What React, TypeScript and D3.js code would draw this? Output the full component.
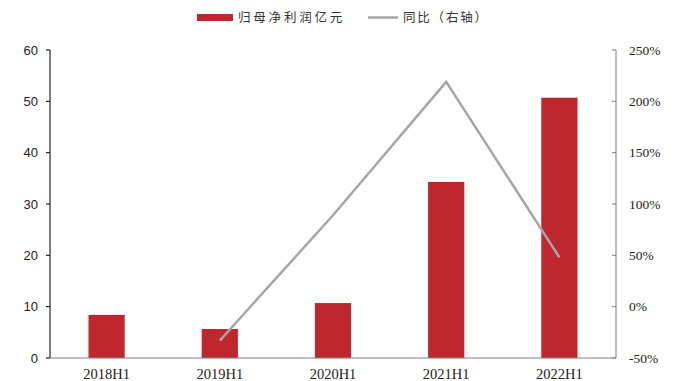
import React from "react";
import * as d3 from "d3";

const categories = ["2018H1", "2019H1", "2020H1", "2021H1", "2022H1"];
const profit = [8.4, 5.65, 10.7, 34.3, 50.7];
const yoy: (number | null)[] = [null, -33, 89, 219, 48];
const leftTicks = [0, 10, 20, 30, 40, 50, 60];
const rightTicks = [-50, 0, 50, 100, 150, 200, 250];

const W = 678, H = 381;
const L = 50, R = 616, T = 50, B = 358;

export default function App() {
  const x = d3.scaleBand<string>().domain(categories).range([L, R]).paddingInner(0.68).paddingOuter(0.34);
  const yL = d3.scaleLinear().domain([0, 60]).range([B, T]);
  const yR = d3.scaleLinear().domain([-50, 250]).range([B, T]);
  const pts = categories
    .map((c, i) => ({ c, v: yoy[i] }))
    .filter((d) => d.v !== null) as { c: string; v: number }[];
  const line = d3
    .line<{ c: string; v: number }>()
    .x((d) => (x(d.c) as number) + x.bandwidth() / 2)
    .y((d) => yR(d.v));
  return (
    <svg width={W} height={H} style={{ position: "absolute", left: 0, top: 0 }}>
      <rect width={W} height={H} fill="#fff" />
      {/* legend */}
      <rect x={197} y={14} width={36} height={7} fill="#C0262E" />
      <text x={238} y={22} fontSize={12.5} letterSpacing={2.8} fontFamily="Noto Sans CJK SC" fill="#333">归母净利润亿元</text>
      <line x1={368} x2={398} y1={17.5} y2={17.5} stroke="#A6A6A6" strokeWidth={2.5} />
      <text x={403} y={22} fontSize={12.5} letterSpacing={1.8} fontFamily="Noto Sans CJK SC" fill="#333">同比（右轴）</text>
      {/* bars */}
      {categories.map((c, i) => (
        <rect key={c} x={x(c)} y={yL(profit[i])} width={x.bandwidth()} height={B - yL(profit[i])} fill="#C0262E" />
      ))}
      {/* left axis */}
      <line x1={L} x2={L} y1={T} y2={B} stroke="#000" strokeWidth={1} />
      {leftTicks.map((t) => (
        <g key={t}>
          <line x1={L - 4} x2={L} y1={yL(t)} y2={yL(t)} stroke="#000" />
          <text x={38} y={yL(t) + 4.5} fontSize={13} textAnchor="end" fontFamily="Liberation Sans" fill="#222">{t}</text>
        </g>
      ))}
      {/* right axis */}
      <line x1={R} x2={R} y1={T} y2={B} stroke="#7f7f7f" strokeWidth={1} />
      {rightTicks.map((t) => (
        <g key={t}>
          <line x1={R - 4} x2={R} y1={yR(t)} y2={yR(t)} stroke="#7f7f7f" />
          <text x={629} y={yR(t) + 4.5} fontSize={13.5} fontFamily="Liberation Serif" fill="#222">{t}%</text>
        </g>
      ))}
      {/* x axis */}
      <line x1={L} x2={R} y1={B} y2={B} stroke="#7f7f7f" strokeWidth={1} />
      {categories.map((c) => (
        <text key={c} x={(x(c) as number) + x.bandwidth() / 2} y={379} fontSize={14.5} textAnchor="middle" fontFamily="Liberation Serif" fill="#222">{c}</text>
      ))}
      {/* line */}
      <path d={line(pts) || ""} fill="none" stroke="#A6A6A6" strokeWidth={2.5} />
    </svg>
  );
}
